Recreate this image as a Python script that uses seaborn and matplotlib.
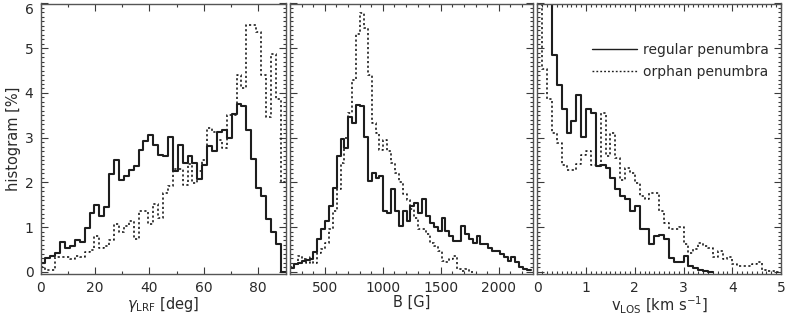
import numpy as np
import pandas as pd
import matplotlib
matplotlib.use("Agg")
import matplotlib.pyplot as plt
import seaborn as sns
from matplotlib.ticker import MultipleLocator
from matplotlib.lines import Line2D

# inclination in local reference frame, 1.8 deg bins starting at 0
gam_lo, gam_step = 0.0, 1.8
gam_regular = [0.20, 0.30, 0.36, 0.43, 0.67, 0.53, 0.58, 0.70, 0.67, 0.97,
               1.32, 1.50, 1.24, 1.45, 2.19, 2.50, 2.06, 2.15, 2.28, 2.37,
               2.73, 2.93, 3.05, 2.84, 2.62, 2.58, 3.02, 2.25, 2.84, 2.43,
               2.59, 2.43, 2.07, 2.39, 2.82, 2.69, 3.13, 3.17, 3.00, 3.52,
               3.75, 3.70, 3.17, 2.52, 1.88, 1.69, 1.17, 0.88, 0.62, 0.00]
gam_orphan = [0.10, 0.05, 0.03, 0.32, 0.32, 0.32, 0.29, 0.36, 0.33, 0.44,
              0.48, 0.80, 0.54, 0.57, 0.71, 1.06, 0.88, 1.02, 1.13, 0.74,
              1.36, 1.36, 1.06, 1.51, 1.21, 1.76, 1.92, 2.30, 2.30, 1.95,
              2.40, 1.98, 2.25, 2.50, 3.21, 3.13, 2.95, 2.76, 3.50, 3.50,
              4.39, 4.12, 5.52, 5.52, 5.36, 4.40, 3.47, 4.88, 3.87, 2.00]

# field strength, bins starting at 200 G
b_lo, b_step = 200.0, 33.5
b_regular = [0.08, 0.17, 0.20, 0.24, 0.26, 0.28, 0.45, 0.73, 0.95, 1.13,
             1.47, 1.88, 2.58, 2.96, 2.76, 3.47, 3.32, 3.73, 3.70, 3.02,
             2.02, 2.21, 2.10, 2.14, 1.36, 1.32, 1.84, 1.36, 1.02, 1.36,
             1.13, 1.47, 1.54, 1.32, 1.62, 1.24, 1.10, 1.00, 0.91, 1.20,
             0.91, 0.80, 0.69, 0.69, 1.02, 0.84, 0.74, 0.65, 0.79, 0.61,
             0.61, 0.54, 0.47, 0.47, 0.39, 0.32, 0.24, 0.32, 0.21, 0.10,
             0.06, 0.03]
b_orphan = [0.10, 0.17, 0.36, 0.28, 0.20, 0.32, 0.20, 0.43, 0.50, 0.65,
            0.95, 1.35, 1.84, 2.43, 3.00, 3.54, 4.28, 5.32, 5.78, 5.45,
            4.39, 3.32, 3.10, 2.73, 2.95, 2.69, 2.43, 2.20, 2.00, 1.73,
            1.60, 1.40, 1.20, 0.95, 0.95, 0.85, 0.65, 0.57, 0.46, 0.25,
            0.21, 0.28, 0.36, 0.06, 0.02, 0.06, 0.00]

# line-of-sight velocity, 0.1 km/s bins starting at 0
v_lo, v_step = 0.0, 0.1
v_regular = [8.0, 7.0, 6.5, 4.84, 4.17, 3.65, 3.10, 3.38, 3.95, 3.02,
             3.65, 3.54, 2.36, 2.39, 2.32, 2.10, 1.84, 1.69, 1.62, 1.36,
             1.47, 0.96, 0.96, 0.62, 0.79, 0.82, 0.73, 0.30, 0.22, 0.22,
             0.36, 0.12, 0.08, 0.03, 0.01, 0.00]
v_orphan = [7.0, 4.54, 3.87, 3.10, 2.87, 2.39, 2.28, 2.28, 2.40, 2.62,
            2.70, 2.39, 2.39, 3.54, 2.60, 3.10, 2.55, 2.06, 2.32, 2.20,
            1.98, 1.69, 1.62, 1.76, 1.76, 1.36, 1.10, 0.95, 0.95, 1.00,
            0.62, 0.42, 0.51, 0.65, 0.58, 0.54, 0.32, 0.47, 0.28, 0.32,
            0.17, 0.12, 0.13, 0.12, 0.17, 0.22, 0.03, 0.01, 0.01, 0.00]

INK = '#1e1e1e'
GREY = '#3a3a3a'
SOLID = dict(linestyle='-', linewidth=1.5)
DOTTED = dict(linestyle=(0, (1.3, 1.5)), linewidth=1.2)

sns.set_style("ticks")
plt.rcParams['font.family'] = ['DejaVu Sans']
plt.rcParams['mathtext.fontset'] = 'dejavusans'


def draw_hist(ax, lo, step, vals, style):
    edges = lo + step * np.arange(len(vals) + 1)
    df = pd.DataFrame({'x': edges[:-1] + step / 2, 'w': vals})
    sns.histplot(data=df, x='x', weights='w', bins=list(edges), element='step',
                 fill=False, color=INK, ax=ax, **style)


fig = plt.figure(figsize=(7.89, 3.21), dpi=100)
W, H = 789.0, 321.0
bot, top = 274.0, 3.5
spans = [(40.5, 285.5), (289.5, 533.0), (537.3, 781.0)]
axes = [fig.add_axes([l / W, (H - bot) / H, (r - l) / W, (bot - top) / H]) for l, r in spans]
ax1, ax2, ax3 = axes

draw_hist(ax1, gam_lo, gam_step, gam_regular, SOLID)
draw_hist(ax1, gam_lo, gam_step, gam_orphan, DOTTED)
draw_hist(ax2, b_lo, b_step, b_regular, SOLID)
draw_hist(ax2, b_lo, b_step, b_orphan, DOTTED)
draw_hist(ax3, v_lo, v_step, v_regular, SOLID)
draw_hist(ax3, v_lo, v_step, v_orphan, DOTTED)

ax1.set_xlim(0, 90)
ax2.set_xlim(195, 2295)
ax3.set_xlim(0, 5)
ax1.xaxis.set_major_locator(MultipleLocator(20))
ax1.xaxis.set_minor_locator(MultipleLocator(10))
ax2.xaxis.set_major_locator(MultipleLocator(500))
ax2.xaxis.set_minor_locator(MultipleLocator(100))
ax3.xaxis.set_major_locator(MultipleLocator(1))
ax3.xaxis.set_minor_locator(MultipleLocator(0.1))

for ax in axes:
    ax.set_ylim(-0.05, 6)
    ax.yaxis.set_major_locator(MultipleLocator(1))
    ax.yaxis.set_minor_locator(MultipleLocator(0.1))
    ax.tick_params(which='both', direction='in', top=True, right=True,
                   color=GREY, width=0.8, labelsize=10, labelcolor='#2a2a2a')
    ax.tick_params(which='major', length=5, pad=5)
    ax.tick_params(which='minor', length=2.5)
    for sp in ax.spines.values():
        sp.set_color('#555555')
        sp.set_linewidth(1.0)
    ax.set_ylabel('')

ax2.tick_params(labelleft=False)
ax3.tick_params(labelleft=False)

lab = dict(fontsize=10.5, color='#2a2a2a', labelpad=0)
ax1.set_ylabel('histogram [%]', labelpad=3, fontsize=10.5, color='#2a2a2a')
ax1.set_xlabel(r'$\gamma_{\rm LRF}$ [deg]', **lab)
ax2.set_xlabel('B [G]', **lab)
ax3.set_xlabel(r'v$_{\rm LOS}$ [km s$^{-1}$]', **lab)

# keep the top "6" label inside the figure, hanging below its tick
fig.canvas.draw()
for t in ax1.get_yticklabels():
    if t.get_text() == '6':
        t.set_va('top')

handles = [Line2D([], [], color=INK, linestyle='-', linewidth=1.0),
           Line2D([], [], color=INK, linestyle=(0, (1.3, 1.5)), linewidth=1.0)]
ax3.legend(handles, ['regular penumbra', 'orphan penumbra'], loc='upper right',
           bbox_to_anchor=(0.95, 0.855), frameon=False, fontsize=10,
           handlelength=3.3, handletextpad=0.4, labelspacing=0.6,
           borderpad=0, borderaxespad=0, labelcolor='#2a2a2a')

fig.savefig('out.png', dpi=100)
